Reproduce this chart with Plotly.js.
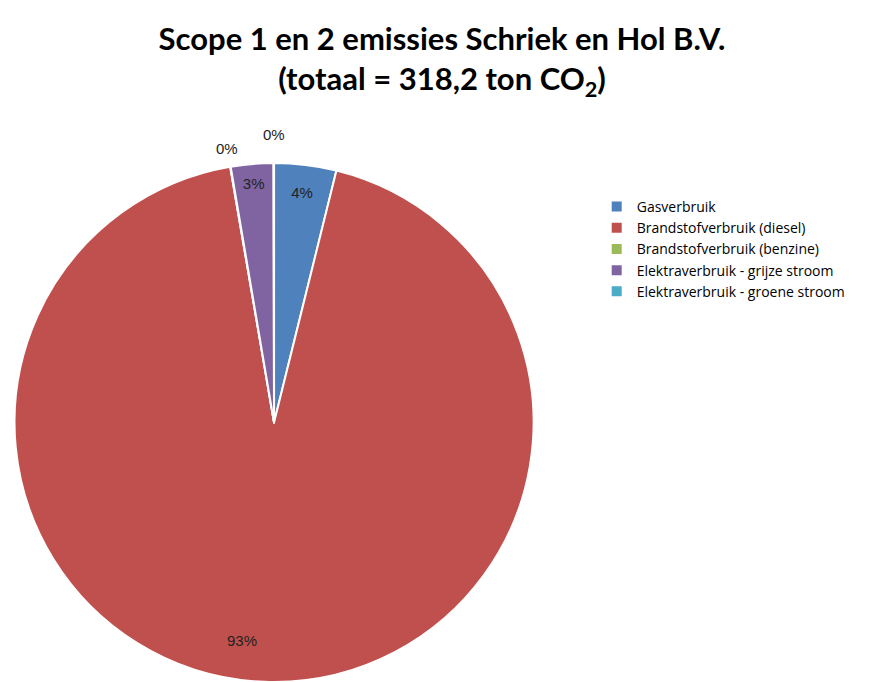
<!DOCTYPE html>
<html>
<head>
<meta charset="utf-8">
<script src="https://cdn.plot.ly/plotly-3.0.1.min.js"></script>
<style>html,body{margin:0;padding:0;background:#fff;}#chart{width:884px;height:682px;}</style>
</head>
<body>
<div id="chart"></div>
<script>
const categories = ["Gasverbruik", "Brandstofverbruik (diesel)", "Brandstofverbruik (benzine)", "Elektraverbruik - grijze stroom", "Elektraverbruik - groene stroom"];
const emissions = [12.3, 297.3, 0.1, 8.4, 0.1];
const colors = ["#4F81BD", "#C0504D", "#9BBB59", "#8064A2", "#4BACC6"];

// label placement style: "inside" = drawn by the pie itself; a number = radius factor for a free label
const labelMode = ["inside", 0.84, 1.07, "inside", 1.11];
const labelNudgeX = [0, -24, 0, 0, 0];

const W = 884, H = 682;
const domX = [0.0125, 0.6075], domY = [0.0, 0.761];

const trace = {
  type: "pie",
  labels: categories,
  values: emissions,
  sort: false,
  direction: "clockwise",
  rotation: 0,
  marker: { colors: colors, line: { color: "#ffffff", width: 2 } },
  texttemplate: "%{percent:.0%}",
  textposition: labelMode.map(m => m === "inside" ? "inside" : "none"),
  insidetextorientation: "horizontal",
  textfont: { family: "Liberation Sans, Arial, sans-serif", size: 15, color: "#222222" },
  hoverinfo: "label+value+percent",
  domain: { x: domX, y: domY }
};

// free labels placed along each slice's bisector, derived from the data
const total = emissions.reduce((a, b) => a + b, 0);
const wPx = (domX[1] - domX[0]) * W, hPx = (domY[1] - domY[0]) * H;
const rPx = Math.min(wPx, hPx) / 2;
const cxPx = (domX[0] + domX[1]) / 2 * W, cyPx = (domY[0] + domY[1]) / 2 * H;
const annotations = [];
let cum = 0;
emissions.forEach((v, i) => {
  const mid = (cum + v / 2) / total * 2 * Math.PI;
  cum += v;
  if (labelMode[i] === "inside") return;
  const f = labelMode[i];
  const px = cxPx + rPx * f * Math.sin(mid);
  const py = cyPx + rPx * f * Math.cos(mid);
  annotations.push({
    x: px / W, y: py / H, xref: "paper", yref: "paper",
    xanchor: "center", yanchor: "middle", showarrow: false,
    xshift: labelNudgeX[i],
    text: Math.round(v / total * 100) + "%",
    font: { family: "Liberation Sans, Arial, sans-serif", size: 15, color: "#222222" }
  });
});

const layout = {
  width: W,
  height: H,
  margin: { l: 0, r: 0, t: 0, b: 0 },
  paper_bgcolor: "#ffffff",
  title: {
    text: "<b>Scope 1 en 2 emissies Schriek en Hol B.V.<br>(totaal = 318,2 ton CO<sub>2</sub>)</b>",
    font: { family: "Lato, Open Sans, sans-serif", size: 31, color: "#000000" },
    x: 0.5, xanchor: "center", xref: "paper", yref: "container", y: 0.927, yanchor: "middle"
  },
  annotations: annotations,
  showlegend: true,
  legend: {
    x: 0.675, y: 0.72, xanchor: "left", yanchor: "top",
    font: { family: "Open Sans, sans-serif", size: 14, color: "#000000" },
    itemwidth: 30,
    tracegroupgap: 0,
    traceorder: "normal"
  }
};

Plotly.newPlot("chart", [trace], layout, { displayModeBar: false, staticPlot: true });
</script>
</body>
</html>
